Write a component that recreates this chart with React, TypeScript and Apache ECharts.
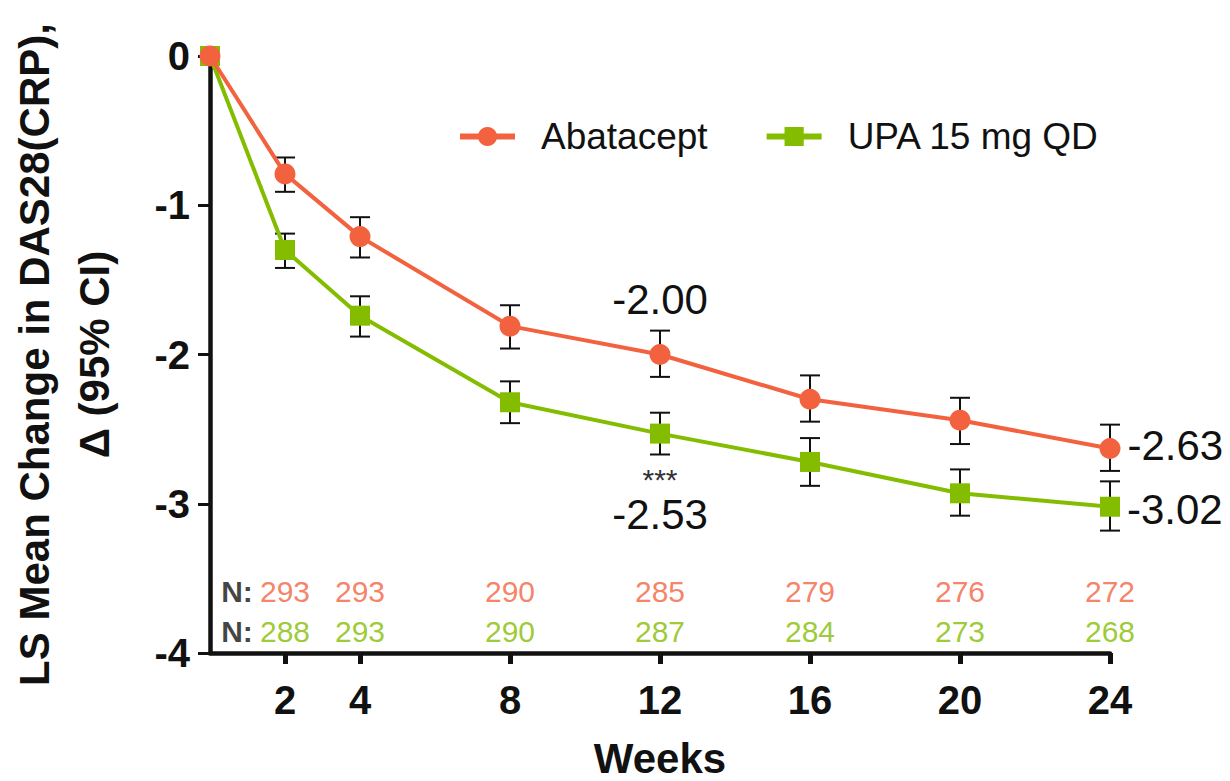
import React, { useEffect, useRef } from "react";
import * as echarts from "echarts";

const weeks = [0, 2, 4, 8, 12, 16, 20, 24];
const abatacept = [0, -0.79, -1.21, -1.81, -2.0, -2.3, -2.44, -2.63];
const abataceptLow = [0, -0.91, -1.35, -1.96, -2.15, -2.45, -2.6, -2.78];
const abataceptHigh = [0, -0.68, -1.08, -1.67, -1.84, -2.14, -2.29, -2.47];
const upa = [0, -1.3, -1.74, -2.32, -2.53, -2.72, -2.93, -3.02];
const upaLow = [0, -1.42, -1.88, -2.46, -2.67, -2.88, -3.08, -3.18];
const upaHigh = [0, -1.19, -1.61, -2.18, -2.39, -2.56, -2.77, -2.85];

const nWeeks = [2, 4, 8, 12, 16, 20, 24];
const nAbatacept = [293, 293, 290, 285, 279, 276, 272];
const nUpa = [288, 293, 290, 287, 284, 273, 268];
const nRowAbatacept = -3.59;
const nRowUpa = -3.855;
const nPrefixWeek = 0.72;

const xTickValues = [2, 4, 8, 12, 16, 20, 24];
const yTicks = { min: -4, max: 0, interval: 1 };

const ORANGE = "#F3623F";
const GREEN = "#84BD00";
const FONT = "'Liberation Sans', Arial, Helvetica, sans-serif";

export default function App() {
  const ref = useRef<HTMLDivElement>(null);

  useEffect(() => {
    if (!ref.current) return;
    const chart = echarts.init(ref.current, undefined, { renderer: "svg" });

    const errData = (low: number[], high: number[]) =>
      weeks
        .map((w, i) => [w, low[i], high[i]])
        .filter((d) => d[1] !== d[2]);

    const renderErr = (params: any, api: any) => {
      const x = api.value(0);
      const pLo = api.coord([x, api.value(1)]);
      const pHi = api.coord([x, api.value(2)]);
      const hw = 10;
      const style = { stroke: "#111", lineWidth: 2 };
      return {
        type: "group",
        children: [
          { type: "line", shape: { x1: pLo[0], y1: pLo[1], x2: pHi[0], y2: pHi[1] }, style },
          { type: "line", shape: { x1: pLo[0] - hw, y1: pLo[1], x2: pLo[0] + hw, y2: pLo[1] }, style },
          { type: "line", shape: { x1: pHi[0] - hw, y1: pHi[1], x2: pHi[0] + hw, y2: pHi[1] }, style },
        ],
      };
    };

    const valueFmt = (p: any) => Number(p.value[1]).toFixed(2);
    const bigLabel = { fontSize: 42, color: "#111", fontFamily: FONT };

    const abaData = weeks.map((w, i) => {
      const item: any = { value: [w, abatacept[i]] };
      if (w === 12) item.label = { show: true, position: "top", distance: 24, formatter: valueFmt, ...bigLabel };
      if (w === 24) item.label = { show: true, position: "right", distance: 7, offset: [0, -3], formatter: valueFmt, ...bigLabel };
      return item;
    });
    const upaData = weeks.map((w, i) => {
      const item: any = { value: [w, upa[i]] };
      if (w === 12)
        item.label = {
          show: true,
          position: "bottom",
          distance: 21,
          formatter: (p: any) => "{s|***}\n{v|" + Number(p.value[1]).toFixed(2) + "}",
          rich: {
            s: { fontSize: 30, lineHeight: 30, color: "#333", fontFamily: FONT, align: "center" },
            v: { fontSize: 42, lineHeight: 40, color: "#111", fontFamily: FONT, align: "center" },
          },
        };
      if (w === 24) item.label = { show: true, position: "right", distance: 7, offset: [0, 3], formatter: valueFmt, ...bigLabel };
      return item;
    });

    const nSeries = (vals: number[], row: number, color: string) => ({
      type: "scatter",
      symbolSize: 0,
      silent: true,
      z: 5,
      data: nWeeks.map((w, i) => [w, row, vals[i]]),
      label: {
        show: true,
        position: "inside",
        formatter: (p: any) => String(p.value[2]),
        fontSize: 30,
        color,
        fontFamily: FONT,
      },
    });

    chart.setOption({
      animation: false,
      backgroundColor: "#ffffff",
      textStyle: { fontFamily: FONT },
      grid: { left: 210, right: 120, top: 56, bottom: 128, containLabel: false, outerBoundsMode: "none" },
      legend: {
        data: ["Abatacept", "UPA 15 mg QD"],
        left: 452,
        top: 113,
        itemWidth: 55,
        itemHeight: 24,
        itemGap: 56,
        lineStyle: { width: 6 },
        textStyle: { fontSize: 37, color: "#111", fontFamily: FONT, padding: [0, 0, 0, 21] },
      },
      xAxis: {
        type: "value",
        min: 0,
        max: 24,
        name: "Weeks",
        nameLocation: "middle",
        nameGap: 84,
        nameTextStyle: { fontSize: 42, lineHeight: 42, fontWeight: "bold", color: "#111", fontFamily: FONT },
        axisLine: { onZero: false, lineStyle: { color: "#111", width: 4.5 } },
        axisTick: { customValues: xTickValues, length: 11, lineStyle: { color: "#111", width: 5 } },
        axisLabel: {
          customValues: xTickValues,
          fontSize: 40,
          fontWeight: "bold",
          color: "#111",
          margin: 27,
          fontFamily: FONT,
        },
        splitLine: { show: false },
      },
      yAxis: {
        type: "value",
        min: yTicks.min,
        max: yTicks.max,
        interval: yTicks.interval,
        name: "LS Mean Change in DAS28(CRP),\nΔ (95% CI)",
        nameLocation: "middle",
        nameGap: 86,
        nameTextStyle: { fontSize: 42, fontWeight: "bold", color: "#111", fontFamily: FONT, lineHeight: 60 },
        axisLine: { show: true, onZero: false, lineStyle: { color: "#111", width: 4.5 } },
        axisTick: { show: true, length: 12, lineStyle: { color: "#111", width: 3 } },
        axisLabel: { fontSize: 40, fontWeight: "bold", color: "#111", margin: 20, fontFamily: FONT },
        splitLine: { show: false },
      },
      series: [
        {
          type: "custom",
          name: "abaErr",
          renderItem: renderErr,
          encode: { x: 0, y: [1, 2] },
          data: errData(abataceptLow, abataceptHigh),
          z: 1,
          silent: true,
        },
        {
          type: "custom",
          name: "upaErr",
          renderItem: renderErr,
          encode: { x: 0, y: [1, 2] },
          data: errData(upaLow, upaHigh),
          z: 1,
          silent: true,
        },
        {
          type: "line",
          name: "Abatacept",
          data: abaData,
          symbol: "circle",
          symbolSize: 21,
          lineStyle: { color: ORANGE, width: 4 },
          itemStyle: { color: ORANGE },
          z: 3,
        },
        {
          type: "line",
          name: "UPA 15 mg QD",
          data: upaData,
          symbol: "rect",
          symbolSize: 20,
          lineStyle: { color: GREEN, width: 4 },
          itemStyle: { color: GREEN },
          z: 2,
        },
        nSeries(nAbatacept, nRowAbatacept, ORANGE),
        nSeries(nUpa, nRowUpa, GREEN),
        {
          type: "scatter",
          symbolSize: 0,
          silent: true,
          data: [
            [nPrefixWeek, nRowAbatacept],
            [nPrefixWeek, nRowUpa],
          ],
          label: {
            show: true,
            position: "inside",
            formatter: "N:",
            fontSize: 30,
            fontWeight: "bold",
            color: "#111",
            fontFamily: FONT,
          },
        },
      ],
    });

    return () => chart.dispose();
  }, []);

  return (
    <div
      ref={ref}
      style={{ position: "fixed", left: 0, top: 0, width: 1230, height: 781, background: "#fff" }}
    />
  );
}
